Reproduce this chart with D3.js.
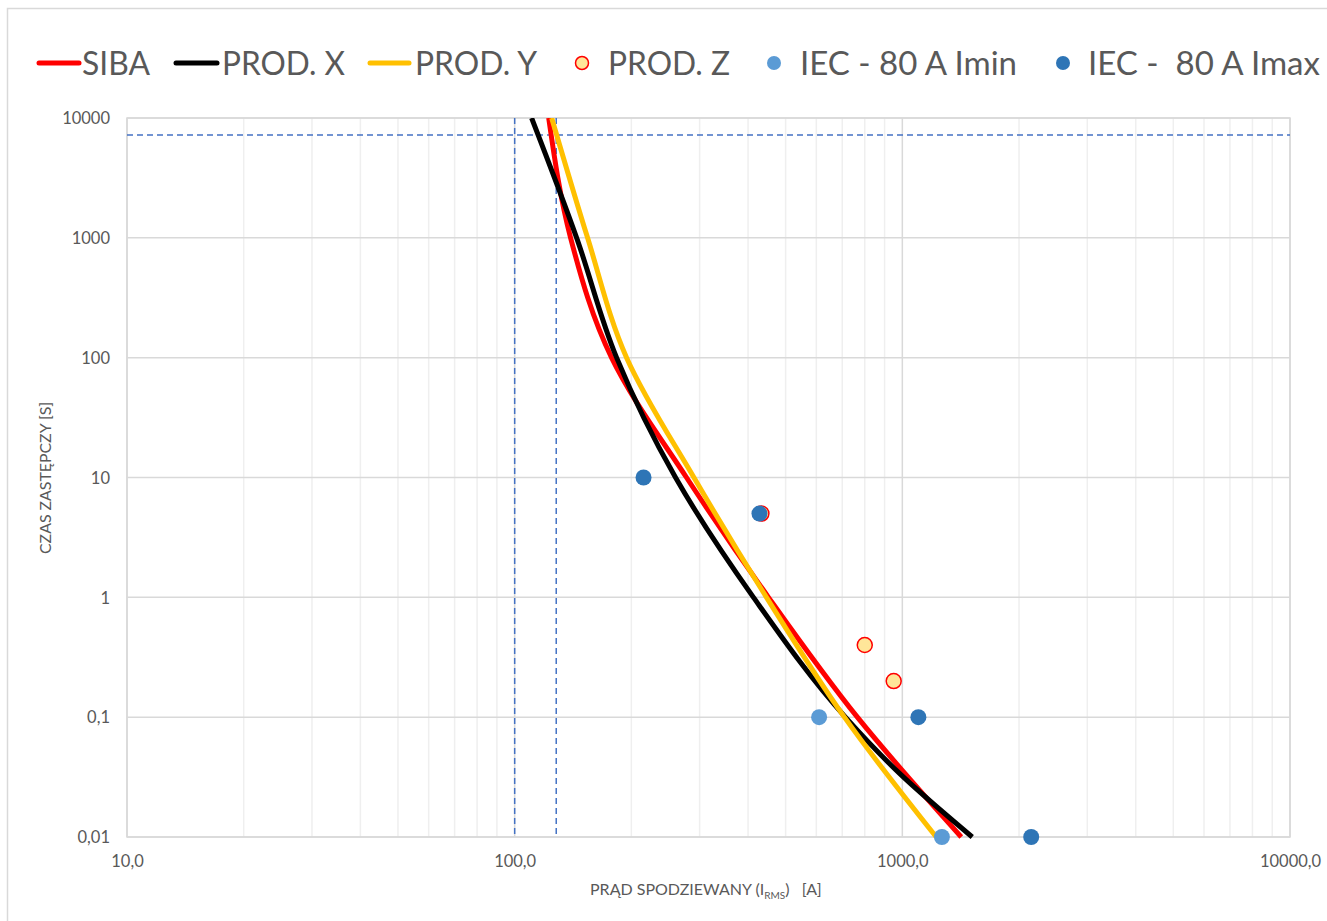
<!DOCTYPE html>
<html>
<head>
<meta charset="utf-8">
<script src="https://cdn.jsdelivr.net/npm/d3@7"></script>
<style>
  html, body { margin: 0; padding: 0; background: #ffffff; }
  svg { display: block; }
  text { font-family: Lato, "Noto Sans", sans-serif; fill: #595959; }
</style>
</head>
<body>
<svg id="chart" width="1327" height="921"></svg>
<script>
// ---------------- DATA ----------------
const seriesNames = ["SIBA", "PROD. X", "PROD. Y", "PROD. Z", "IEC - 80 A Imin", "IEC -  80 A Imax"];

// current [A] / time [s]
const sibaI = [122.4, 139.4, 177.8, 277.5, 451.6, 765.6, 1419];
const sibaT = [10000, 1000, 100, 10, 1, 0.1, 0.01];

const prodXI = [110.6, 144.5, 183.2, 260, 413, 713, 982, 1515];
const prodXT = [10000, 1000, 100, 10, 1, 0.1, 0.0341, 0.01];

const prodYI = [124.6, 154.2, 194.4, 290, 446.2, 708.9, 1223];
const prodYT = [10000, 1000, 100, 10, 1, 0.1, 0.01];

const prodZI = [433, 800, 950];
const prodZT = [5, 0.4, 0.2];

const iecMinI = [610, 1265];
const iecMinT = [0.1, 0.01];

const iecMaxI = [215, 428, 1100, 2150];
const iecMaxT = [10, 5, 0.1, 0.01];

const refCurrents = [100, 128];   // vertical dashed lines [A]
const refTimes = [7200];          // horizontal dashed line [s]

const xTickValues = [10, 100, 1000, 10000];
const xTickLabels = ["10,0", "100,0", "1000,0", "10000,0"];
const yTickValues = [0.01, 0.1, 1, 10, 100, 1000, 10000];
const yTickLabels = ["0,01", "0,1", "1", "10", "100", "1000", "10000"];

const xTitle = ["PRĄD SPODZIEWANY (I", "RMS", ")   [A]"];
const yTitle = "CZAS ZASTĘPCZY [S]";

// ---------------- LAYOUT ----------------
const svg = d3.select("#chart");
const L = 127, R = 1290, T = 118, B = 837;
const x = d3.scaleLog().domain([10, 10000]).range([L, R]);
const y = d3.scaleLog().domain([0.01, 10000]).range([B, T]);

// outer chart border
svg.append("rect").attr("x", 7.5).attr("y", 8.5).attr("width", 1330).attr("height", 930)
  .attr("fill", "none").attr("stroke", "#D9D9D9").attr("stroke-width", 1.5);

// minor vertical gridlines
const minorX = [];
[10, 100, 1000].forEach(d => { for (let k = 2; k <= 9; k++) minorX.push(d * k); });
svg.append("g").selectAll("line").data(minorX).join("line")
  .attr("x1", d => x(d)).attr("x2", d => x(d)).attr("y1", T).attr("y2", B)
  .attr("stroke", "#EFEFEF").attr("stroke-width", 1.5);

// major gridlines
svg.append("g").selectAll("line").data(xTickValues).join("line")
  .attr("x1", d => x(d)).attr("x2", d => x(d)).attr("y1", T).attr("y2", B)
  .attr("stroke", "#D9D9D9").attr("stroke-width", 1.5);
svg.append("g").selectAll("line").data(yTickValues).join("line")
  .attr("x1", L).attr("x2", R).attr("y1", d => y(d)).attr("y2", d => y(d))
  .attr("stroke", "#D9D9D9").attr("stroke-width", 1.5);

// plot border
svg.append("rect").attr("x", L).attr("y", T).attr("width", R - L).attr("height", B - T)
  .attr("fill", "none").attr("stroke", "#D9D9D9").attr("stroke-width", 1.5);

// axes (labels only, via d3 axis)
const xAxis = d3.axisBottom(x).tickValues(xTickValues)
  .tickFormat((d, i) => xTickLabels[i]).tickSize(0).tickPadding(0);
const gx = svg.append("g").attr("transform", `translate(0,${B})`).call(xAxis);
gx.select(".domain").remove();
gx.selectAll("text").attr("dy", null).attr("y", 30).style("font-size", "16.5px")
  .style("fill", "#595959").style("font-family", "Lato");

const yAxis = d3.axisLeft(y).tickValues(yTickValues)
  .tickFormat((d, i) => yTickLabels[i]).tickSize(0).tickPadding(0);
const gy = svg.append("g").attr("transform", `translate(110,0)`).call(yAxis);
gy.select(".domain").remove();
gy.selectAll("text").attr("dy", "0.35em").attr("x", 0).style("font-size", "16.5px")
  .style("fill", "#595959").style("font-family", "Lato");

// dashed reference lines
svg.append("g").selectAll("line").data(refCurrents).join("line")
  .attr("x1", d => x(d)).attr("x2", d => x(d)).attr("y1", T).attr("y2", B)
  .attr("stroke", "#4472C4").attr("stroke-width", 1.5).attr("stroke-dasharray", "6,4");
svg.append("g").selectAll("line").data(refTimes).join("line")
  .attr("x1", L).attr("x2", R).attr("y1", d => y(d)).attr("y2", d => y(d))
  .attr("stroke", "#4472C4").attr("stroke-width", 1.5).attr("stroke-dasharray", "6,4");

// curves
svg.append("defs").append("clipPath").attr("id", "plotclip")
  .append("rect").attr("x", L - 10).attr("y", T).attr("width", R - L + 20).attr("height", B - T + 10);

const line = d3.line().x(d => x(d[0])).y(d => y(d[1])).curve(d3.curveMonotoneY);
const curves = [
  { I: sibaI, t: sibaT, color: "#FF0000" },
  { I: prodXI, t: prodXT, color: "#000000" },
  { I: prodYI, t: prodYT, color: "#FFC000" }
];
const gc = svg.append("g").attr("clip-path", "url(#plotclip)");
curves.forEach(c => {
  gc.append("path").datum(c.I.map((v, i) => [v, c.t[i]]))
    .attr("d", line).attr("fill", "none").attr("stroke", c.color)
    .attr("stroke-width", 5).attr("stroke-linejoin", "round");
});

// scatter points
svg.append("g").selectAll("circle").data(iecMinI.map((v, i) => [v, iecMinT[i]])).join("circle")
  .attr("cx", d => x(d[0])).attr("cy", d => y(d[1])).attr("r", 8).attr("fill", "#5B9BD5");
svg.append("g").selectAll("circle").data(prodZI.map((v, i) => [v, prodZT[i]])).join("circle")
  .attr("cx", d => x(d[0])).attr("cy", d => y(d[1])).attr("r", 7.5)
  .attr("fill", "#FFE699").attr("stroke", "#FF0000").attr("stroke-width", 1.5);
svg.append("g").selectAll("circle").data(iecMaxI.map((v, i) => [v, iecMaxT[i]])).join("circle")
  .attr("cx", d => x(d[0])).attr("cy", d => y(d[1])).attr("r", 8).attr("fill", "#2E75B6");

// axis titles
const xt = svg.append("text").attr("x", 590).attr("y", 895).style("font-size", "16px")
  .style("white-space", "pre");
xt.append("tspan").text(xTitle[0]);
xt.append("tspan").attr("dy", 4).style("font-size", "10px").text(xTitle[1]);
xt.append("tspan").attr("dy", -4).text(xTitle[2]);

svg.append("text").attr("transform", "translate(51,478) rotate(-90)")
  .attr("text-anchor", "middle").style("font-size", "15px")
  .attr("textLength", 152).attr("lengthAdjust", "spacingAndGlyphs").text(yTitle);

// legend
const legend = [
  { type: "line", color: "#FF0000", x0: 39, x1: 79, tx: 82, tw: 68 },
  { type: "line", color: "#000000", x0: 176, x1: 217, tx: 222, tw: 123 },
  { type: "line", color: "#FFC000", x0: 370, x1: 409, tx: 415, tw: 122 },
  { type: "zdot", cx: 582, tx: 608, tw: 122 },
  { type: "dot", color: "#5B9BD5", cx: 774, tx: 800, tw: 217 },
  { type: "dot", color: "#2E75B6", cx: 1063, tx: 1088, tw: 232 }
];
const ly = 63;
const lg = svg.append("g");
legend.forEach((d, i) => {
  if (d.type === "line") {
    lg.append("line").attr("x1", d.x0).attr("x2", d.x1).attr("y1", ly).attr("y2", ly)
      .attr("stroke", d.color).attr("stroke-width", 5).attr("stroke-linecap", "round");
  } else if (d.type === "zdot") {
    lg.append("circle").attr("cx", d.cx).attr("cy", ly).attr("r", 6.5)
      .attr("fill", "#FFE699").attr("stroke", "#FF0000").attr("stroke-width", 1.5);
  } else {
    lg.append("circle").attr("cx", d.cx).attr("cy", ly).attr("r", 7).attr("fill", d.color);
  }
  lg.append("text").attr("x", d.tx).attr("y", 75).style("font-size", "33px")
    .attr("textLength", d.tw).attr("lengthAdjust", "spacingAndGlyphs")
    .style("white-space", "pre").text(seriesNames[i]);
});
</script>
</body>
</html>
